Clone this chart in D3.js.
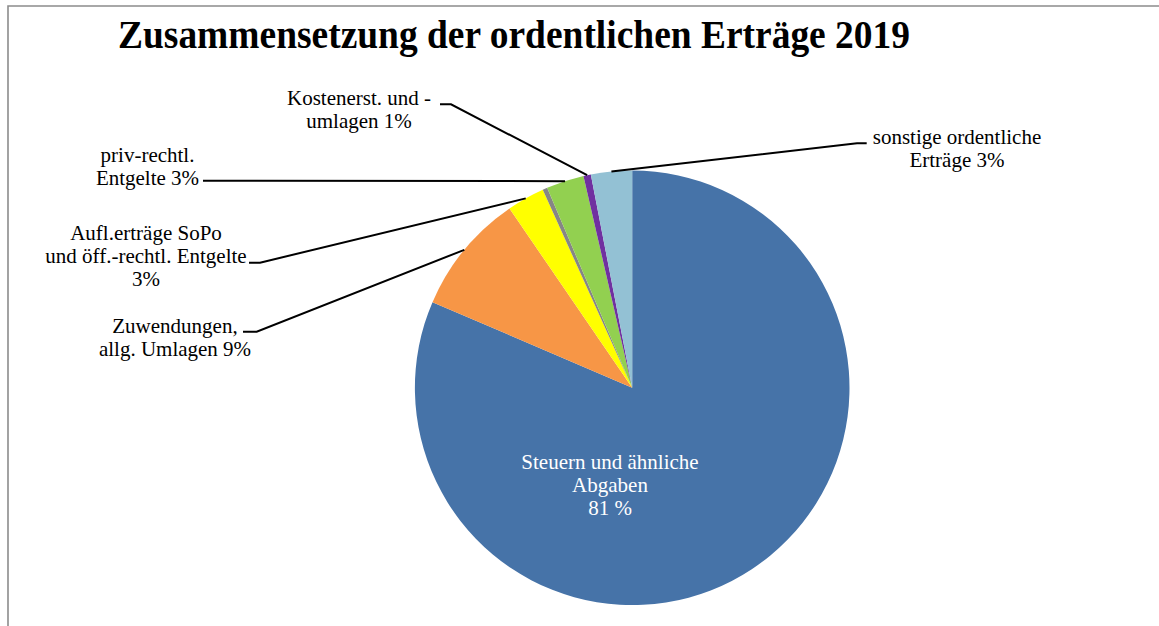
<!DOCTYPE html>
<html lang="de">
<head>
<meta charset="utf-8">
<script src="https://cdn.jsdelivr.net/npm/d3@7/dist/d3.min.js"></script>
<style>
  html, body { margin: 0; padding: 0; background: #fff; }
  svg { display: block; }
  text { font-family: "Liberation Serif", "Times New Roman", serif; }
</style>
</head>
<body>
<svg id="chart" width="1159" height="626"></svg>
<script>
// Ertragsarten (Reihenfolge im Uhrzeigersinn ab 12 Uhr)
const categories = [
  "Steuern und ähnliche Abgaben",
  "Zuwendungen, allg. Umlagen",
  "Aufl.erträge SoPo und öff.-rechtl. Entgelte",
  "sonstige Transfererträge",
  "priv-rechtl. Entgelte",
  "Kostenerst. und -umlagen",
  "sonstige ordentliche Erträge"
];

// Anteile in Prozent
const values = [81.45, 9.0, 2.8, 0.35, 2.8, 0.55, 3.05];

// Beschriftungszeilen; {p} wird durch den gerundeten Anteil ersetzt
const labelLines = [
  ["Steuern und ähnliche", "Abgaben", "{p} %"],
  ["Zuwendungen,", "allg. Umlagen {p}%"],
  ["Aufl.erträge SoPo", "und öff.-rechtl. Entgelte", "{p}%"],
  null,
  ["priv-rechtl.", "Entgelte {p}%"],
  ["Kostenerst. und -", "umlagen {p}%"],
  ["sonstige ordentliche", "Erträge {p}%"]
];

const titleText = "Zusammensetzung der ordentlichen Erträge 2019";

const colors = ["#4673a8", "#f79646", "#ffff00", "#868686", "#92d050", "#7030a0", "#93c1d4"];

// ---- Layout ----
const W = 1159, H = 626;
const cx = 632.2, cy = 387.8, R = 217.3;
const lineH = 22.8;

// Lage der Beschriftungen: Mittelpunkt x, erste Grundlinie y, Startpunkte der Führungslinie
const labelLayout = {
  0: { x: 610, y: 469, color: "#fff", leader: null },
  1: { x: 175, y: 333, color: "#000", leader: [[243, 331.7], [256.7, 331.7]] },
  2: { x: 146, y: 240, color: "#000", leader: [[249, 262.7], [260, 262.7]] },
  4: { x: 147.5, y: 162, color: "#000", leader: [[203, 180.8]] },
  5: { x: 359, y: 105, color: "#000", leader: [[440, 104.3], [451, 104.3]] },
  6: { x: 957, y: 144, color: "#000", leader: [[866.7, 143.3], [857, 143.3]] }
};

const svg = d3.select("#chart");

// Rahmen des Diagrammbereichs
svg.append("path")
  .attr("d", `M8,${H} V6 H${W}`)
  .attr("fill", "none")
  .attr("stroke", "#8c8c8c")
  .attr("stroke-width", 1.6);

// Titel
svg.append("text")
  .attr("x", 118)
  .attr("y", 48)
  .attr("font-size", 39)
  .attr("font-weight", "bold")
  .attr("textLength", 792)
  .attr("lengthAdjust", "spacingAndGlyphs")
  .attr("fill", "#000")
  .text(titleText);

const pie = d3.pie().sort(null).value(d => d);
const arcs = pie(values);
const arc = d3.arc().innerRadius(0).outerRadius(R);
const color = d3.scaleOrdinal().domain(categories).range(colors);

const g = svg.append("g").attr("transform", `translate(${cx},${cy})`);

g.selectAll("path.slice")
  .data(arcs)
  .join("path")
  .attr("class", "slice")
  .attr("d", arc)
  .attr("fill", (d, i) => color(categories[i]));

// Führungslinien zur Mitte des jeweiligen Segmentrands
const rimPoint = d => {
  const a = (d.startAngle + d.endAngle) / 2;
  return [cx + Math.sin(a) * R, cy - Math.cos(a) * R];
};

arcs.forEach((d, i) => {
  const lay = labelLayout[i];
  if (!lay || !lay.leader) return;
  const pts = lay.leader.concat([rimPoint(d)]);
  svg.append("path")
    .attr("d", d3.line()(pts))
    .attr("fill", "none")
    .attr("stroke", "#000")
    .attr("stroke-width", 2);
});

// Beschriftungen
arcs.forEach((d, i) => {
  const lines = labelLines[i];
  const lay = labelLayout[i];
  if (!lines || !lay) return;
  const pct = Math.round(values[i] / d3.sum(values) * 100);
  const t = svg.append("text")
    .attr("text-anchor", "middle")
    .attr("font-size", 21)
    .attr("fill", lay.color);
  lines.forEach((ln, k) => {
    t.append("tspan")
      .attr("x", lay.x)
      .attr("y", lay.y + k * lineH)
      .text(ln.replace("{p}", pct));
  });
});
</script>
</body>
</html>
